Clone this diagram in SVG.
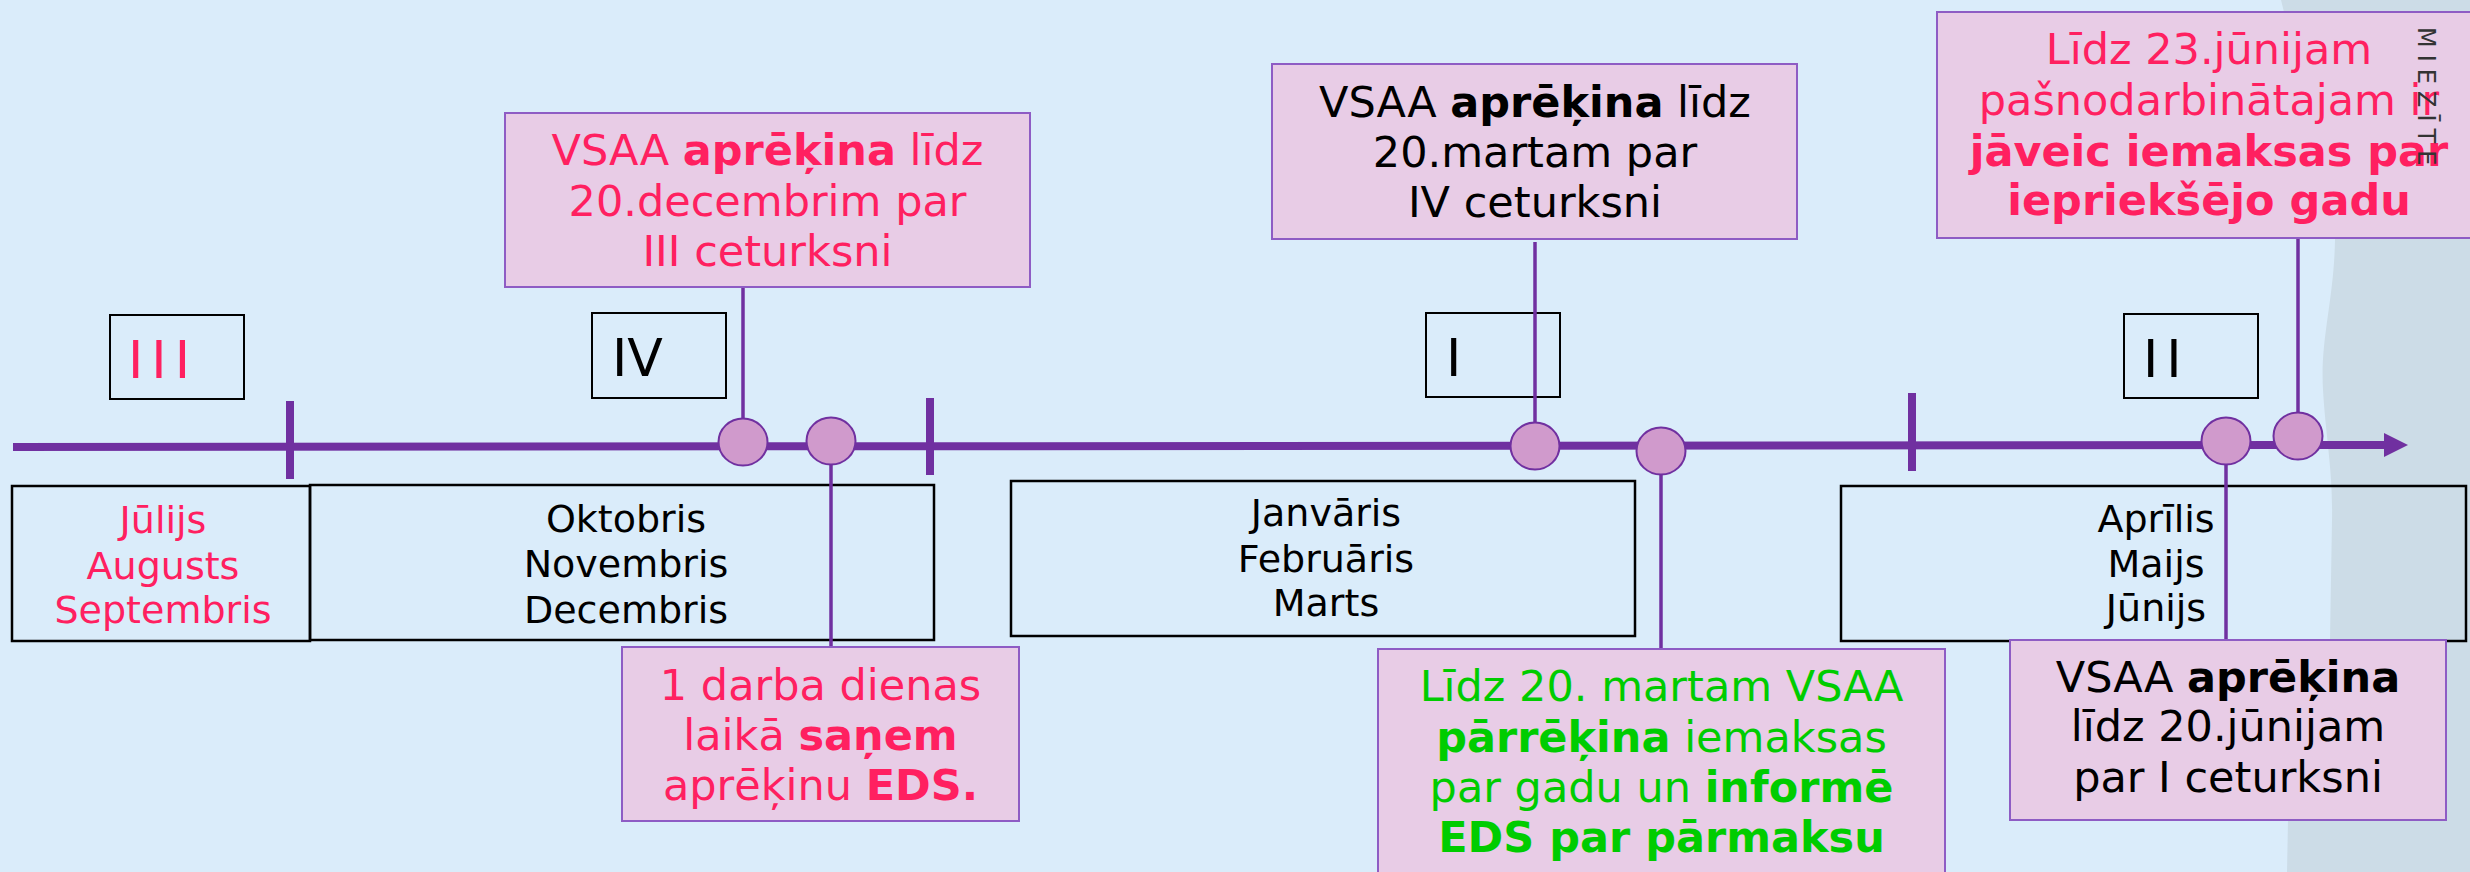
<svg xmlns="http://www.w3.org/2000/svg" width="2470" height="872" viewBox="0 0 2470 872">
<style>
text{font-family:"DejaVu Sans","Verdana","Noto Sans",sans-serif;text-anchor:middle}
.b{font-weight:bold}
.pk{fill:#FF2060}
.gr{fill:#00CC00}
.bk{fill:#000}
.note{fill:#E8CCE6;stroke:#8E5CC4;stroke-width:2}
.month{fill:none;stroke:#000;stroke-width:2.5}
.q{fill:none;stroke:#000;stroke-width:2}
.nt{font-size:43px}
.mt{font-size:38px}
.qt{font-size:52px;text-anchor:start}
.dot{fill:#D09ACC;stroke:#7030A0;stroke-width:2}
.con{stroke:#7030A0;stroke-width:3.5;fill:none}
</style>
<rect width="2470" height="872" fill="#DAECFA"/>
<path d="M2281,0 C2300,80 2336,150 2335,240 C2334,300 2320,340 2323,390 C2326,440 2333,470 2332,520 L2330,640 C2325,700 2295,760 2288,820 L2287,872 L2470,872 L2470,0 Z" fill="#CCDCE7"/>

<g id="month-q3">
<rect class="month" x="12" y="486" width="298" height="155"/>
<text class="mt pk" x="163" y="533">Jūlijs</text>
<text class="mt pk" x="163" y="579">Augusts</text>
<text class="mt pk" x="163" y="623">Septembris</text>
</g>
<g id="month-q4">
<rect class="month" x="310" y="485" width="624" height="155"/>
<text class="mt bk" x="626" y="532">Oktobris</text>
<text class="mt bk" x="626" y="577">Novembris</text>
<text class="mt bk" x="626" y="623">Decembris</text>
</g>
<g id="month-q1">
<rect class="month" x="1011" y="481" width="624" height="155"/>
<text class="mt bk" x="1326" y="526">Janvāris</text>
<text class="mt bk" x="1326" y="572">Februāris</text>
<text class="mt bk" x="1326" y="616">Marts</text>
</g>
<g id="month-q2">
<rect class="month" x="1841" y="486" width="625" height="155"/>
<text class="mt bk" x="2156" y="532">Aprīlis</text>
<text class="mt bk" x="2156" y="577">Maijs</text>
<text class="mt bk" x="2156" y="621">Jūnijs</text>
</g>

<g id="quarter-III">
<rect class="q" x="110" y="315" width="134" height="84"/>
<text class="qt pk" x="128" y="378" letter-spacing="8">III</text>
</g>
<g id="quarter-IV">
<rect class="q" x="592" y="313" width="134" height="85"/>
<text class="qt bk" x="612" y="376">IV</text>
</g>
<g id="quarter-I">
<rect class="q" x="1426" y="313" width="134" height="84"/>
<text class="qt bk" x="1446" y="376">I</text>
</g>
<g id="quarter-II">
<rect class="q" x="2124" y="314" width="134" height="84"/>
<text class="qt bk" x="2143" y="377" letter-spacing="8">II</text>
</g>

<g id="timeline">
<line x1="13" y1="447" x2="2388" y2="445" stroke="#7030A0" stroke-width="8"/>
<polygon points="2384,433 2408,445 2384,457" fill="#7030A0"/>
<rect x="286" y="401" width="8" height="78" fill="#7030A0"/>
<rect x="926" y="398" width="8" height="77" fill="#7030A0"/>
<rect x="1908" y="393" width="8" height="78" fill="#7030A0"/>
</g>

<g id="connectors">
<line class="con" x1="743" y1="287" x2="743" y2="420"/>
<line class="con" x1="831" y1="464" x2="831" y2="647"/>
<line class="con" x1="1535" y1="242" x2="1535" y2="423"/>
<line class="con" x1="1661" y1="474" x2="1661" y2="649"/>
<line class="con" x1="2226" y1="464" x2="2226" y2="640"/>
<line class="con" x1="2298" y1="238" x2="2298" y2="413"/>
</g>

<g id="event-1"><ellipse class="dot" cx="743" cy="442" rx="24.5" ry="23.5"/></g>
<g id="event-2"><ellipse class="dot" cx="831" cy="441" rx="24.5" ry="23.5"/></g>
<g id="event-3"><ellipse class="dot" cx="1535" cy="446" rx="24.5" ry="23.5"/></g>
<g id="event-4"><ellipse class="dot" cx="1661" cy="451" rx="24.5" ry="23.5"/></g>
<g id="event-5"><ellipse class="dot" cx="2226" cy="441" rx="24.5" ry="23.5"/></g>
<g id="event-6"><ellipse class="dot" cx="2298" cy="436" rx="24.5" ry="23.5"/></g>

<g id="note-dec">
<rect class="note" x="505" y="113" width="525" height="174"/>
<text class="nt pk" x="767.5" y="165">VSAA <tspan class="b">aprēķina</tspan> līdz</text>
<text class="nt pk" x="767.5" y="216">20.decembrim par</text>
<text class="nt pk" x="767.5" y="266">III ceturksni</text>
</g>
<g id="note-eds">
<rect class="note" x="622" y="647" width="397" height="174"/>
<text class="nt pk" x="820.5" y="700">1 darba dienas</text>
<text class="nt pk" x="820.5" y="750">laikā <tspan class="b">saņem</tspan></text>
<text class="nt pk" x="820.5" y="800">aprēķinu <tspan class="b">EDS.</tspan></text>
</g>
<g id="note-mar">
<rect class="note" x="1272" y="64" width="525" height="175"/>
<text class="nt bk" x="1535" y="117">VSAA <tspan class="b">aprēķina</tspan> līdz</text>
<text class="nt bk" x="1535" y="167">20.martam par</text>
<text class="nt bk" x="1535" y="217">IV ceturksni</text>
</g>
<g id="note-recalc">
<rect class="note" x="1378" y="649" width="567" height="240"/>
<text class="nt gr" x="1661.5" y="701">Līdz 20. martam VSAA</text>
<text class="nt gr" x="1661.5" y="752"><tspan class="b">pārrēķina</tspan> iemaksas</text>
<text class="nt gr" x="1661.5" y="802">par gadu un <tspan class="b">informē</tspan></text>
<text class="nt gr b" x="1661.5" y="852">EDS par pārmaksu</text>
</g>
<g id="note-jun23">
<rect class="note" x="1937" y="12" width="545" height="226"/>
<text class="nt pk" x="2209" y="64">Līdz 23.jūnijam</text>
<text class="nt pk" x="2209" y="115">pašnodarbinātajam ir</text>
<text class="nt pk b" x="2209" y="166">jāveic iemaksas par</text>
<text class="nt pk b" x="2209" y="215">iepriekšējo gadu</text>
</g>
<g id="note-jun20">
<rect class="note" x="2010" y="640" width="436" height="180"/>
<text class="nt bk" x="2228" y="692">VSAA <tspan class="b">aprēķina</tspan></text>
<text class="nt bk" x="2228" y="741">līdz 20.jūnijam</text>
<text class="nt bk" x="2228" y="792">par I ceturksni</text>
</g>

<text x="0" y="0" transform="translate(2418,27) rotate(90)" style="text-anchor:start;font-size:24px;letter-spacing:7px;fill:#333">MIEZĪTE</text>
</svg>
